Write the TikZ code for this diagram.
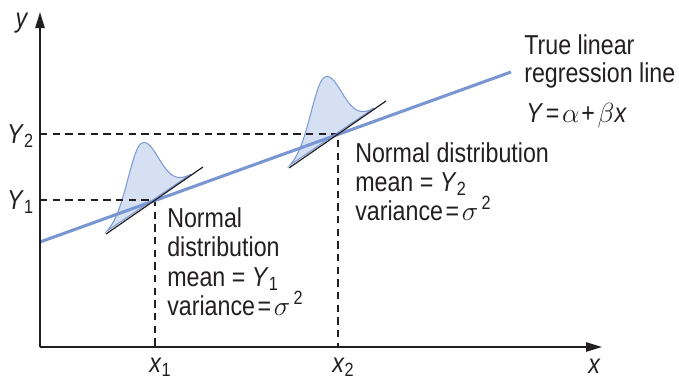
\documentclass[tikz,border=0pt]{standalone}
\usepackage{fontspec}
\setmainfont{Liberation Sans}[FakeStretch=0.85]
\usetikzlibrary{arrows.meta}
\definecolor{regblue}{RGB}{122,150,210}
\definecolor{distfill}{RGB}{214,224,243}
\definecolor{distline}{RGB}{125,155,215}
\definecolor{inkblack}{RGB}{35,31,32}
\newcommand\normbump[2]{%
  \filldraw[fill=distfill, draw=distline, line width=0.8pt]
    plot[domain=-34:50, samples=85]
    ({#1-14+\x}, {#2 - 0.69*(\x-14) - 66*exp(-(\x*\x)/(2*ifthenelse(\x<0,169,300)))}) -- cycle;
}
\begin{document}
\begin{tikzpicture}[x=0.75pt, y=-0.75pt,
  font=\fontsize{20.5}{24}\selectfont,
  lbl/.style={anchor=base west, inner sep=0pt, text=inkblack},
  axis/.style={draw=inkblack, line width=1.1pt, -{Triangle[length=12pt, width=7pt]}},
  guide/.style={draw=inkblack, line width=0.9pt, dash pattern=on 5.5pt off 4pt},
  tangent/.style={draw=inkblack, line width=0.9pt},
  regline/.style={draw=regblue, line width=2.3pt}]
\useasboundingbox (0,0) rectangle (679,383);
% key points
\coordinate (O) at (40,347);
\coordinate (ytop) at (40,12);
\coordinate (xend) at (602,347);
\coordinate (r0) at (40,242);
\coordinate (r1) at (511,72);
\coordinate (P1) at (155,200);
\coordinate (P2) at (338,134);
\coordinate (Y1ax) at (40,200);
\coordinate (Y2ax) at (40,134);
\coordinate (X1ax) at (155,347);
\coordinate (X2ax) at (338,347);
\coordinate (t1a) at (106,234);
\coordinate (t1b) at (203,167);
\coordinate (t2a) at (289,168);
\coordinate (t2b) at (386,101);
% distributions
\normbump{155}{200}
\normbump{338}{134}
% guides
\draw[guide] (Y1ax) -- (P1) -- (X1ax);
\draw[guide] (Y2ax) -- (P2) -- (X2ax);
% regression line
\draw[regline] (r0) -- (r1);
% tangent lines
\draw[tangent] (t1a) -- (t1b);
\draw[tangent] (t2a) -- (t2b);
% axes
\draw[axis] (O) -- (ytop);
\draw[axis] (O) -- (xend);
% axis labels
\node[anchor=base, inner sep=0pt, text=inkblack] (ylab) at (22,27) {\textit{y}};
\node[lbl] (xlab) at (588,373) {\textit{x}};
\node[anchor=base east, inner sep=0pt, text=inkblack] (Y2lab) at (34,143) {\textit{Y}\textsubscript{2}};
\node[anchor=base east, inner sep=0pt, text=inkblack] (Y1lab) at (34,209) {\textit{Y}\textsubscript{1}};
\node[lbl] (x1lab) at (149,372) {\textit{x}\textsubscript{1}};
\node[lbl] (x2lab) at (332,372) {\textit{x}\textsubscript{2}};
% regression label
\node[lbl] (t1) at (524,54) {True linear};
\node[lbl] (t2) at (524,82) {regression line};
\node[lbl] (t3) at (526,122) {\textit{Y}\kern2pt=\kern2pt$\alpha$\kern1.5pt+\kern2pt$\beta$\textit{x}};
% block 2
\node[lbl] (b21) at (355,162) {Normal distribution};
\node[lbl] (b22) at (355,191) {mean = \textit{Y}\textsubscript{2}};
\node[lbl] (b23) at (355,220) {variance\kern2pt=\kern2pt$\sigma$\textsuperscript{\,2}};
% block 1
\node[lbl] (b11) at (167,227) {Normal};
\node[lbl] (b12) at (167,256) {distribution};
\node[lbl] (b13) at (167,286) {mean = \textit{Y}\textsubscript{1}};
\node[lbl] (b14) at (167,315) {variance\kern2pt=\kern2pt$\sigma$\textsuperscript{\,2}};
\end{tikzpicture}
\end{document}
